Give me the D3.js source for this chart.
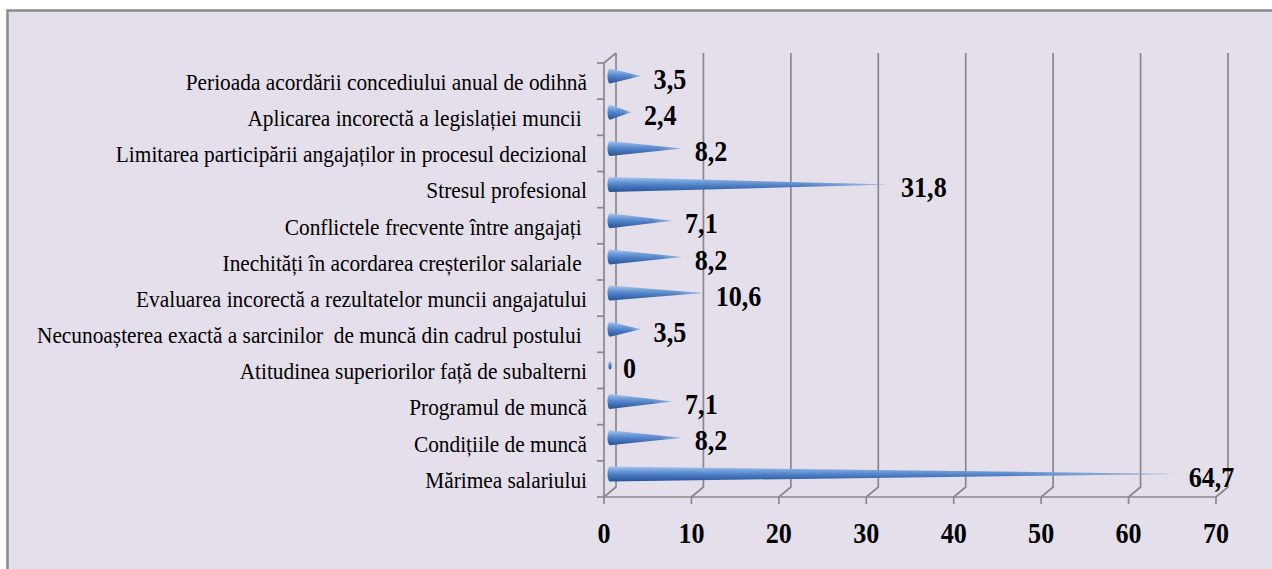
<!DOCTYPE html>
<html>
<head>
<meta charset="utf-8">
<script src="https://cdn.jsdelivr.net/npm/d3@7"></script>
<style>
  html, body { margin: 0; padding: 0; background: #ffffff; }
  svg { display: block; }
</style>
</head>
<body>
<svg id="chart" width="1272" height="569"></svg>
<script>
const categories = [
  "Perioada acordării concediului anual de odihnă",
  "Aplicarea incorectă a legislației muncii ",
  "Limitarea participării angajaților in procesul decizional",
  "Stresul profesional",
  "Conflictele frecvente între angajați ",
  "Inechități în acordarea creșterilor salariale ",
  "Evaluarea incorectă a rezultatelor muncii angajatului",
  "Necunoașterea exactă a sarcinilor  de muncă din cadrul postului ",
  "Atitudinea superiorilor față de subalterni",
  "Programul de muncă",
  "Condițiile de muncă",
  "Mărimea salariului"
];
const values = [3.5, 2.4, 8.2, 31.8, 7.1, 8.2, 10.6, 3.5, 0, 7.1, 8.2, 64.7];
const xTicks = [0, 10, 20, 30, 40, 50, 60, 70];

const FONT = "'Liberation Serif', 'Times New Roman', serif";
const svg = d3.select("#chart");

svg.append("rect")
  .attr("x", 7.5).attr("y", 10.5).attr("width", 1300).attr("height", 600)
  .attr("fill", "#e5dfeb").attr("stroke", "#8a8a8a").attr("stroke-width", 2.5);

const x = d3.scaleLinear().domain([0, 70]).range([604, 1216]);
const y = d3.scaleBand().domain(categories).range([63, 497]).paddingInner(0).paddingOuter(0);
const DX = 12, DY = -10;
const plotTop = 63, plotBottom = 497;

const grid = svg.append("g").attr("fill", "none").attr("stroke", "#898989").attr("stroke-width", 1.7);

xTicks.forEach(t => {
  const xb = x(t) + DX;
  grid.append("path")
    .attr("d", `M${xb},${plotTop + DY}L${xb},${plotBottom + DY}L${x(t)},${plotBottom}`);
});
grid.append("path").attr("d", `M${x(0) + DX},${plotTop + DY}L${x(0)},${plotTop}L${x(0)},${plotBottom}`);
grid.append("path").attr("d", `M${x(0)},${plotBottom}L${x(70)},${plotBottom}`);
xTicks.forEach(t => {
  grid.append("path").attr("d", `M${x(t)},${plotBottom}L${x(t)},${plotBottom + 7}`);
});
const bounds = categories.map(c => y(c)).concat([plotBottom]);
bounds.forEach(b => {
  grid.append("path").attr("d", `M${x(0) - 7},${b}L${x(0)},${b}`);
});

const defs = svg.append("defs");
const g1 = defs.append("linearGradient").attr("id", "coneV").attr("x1", 0).attr("y1", 0).attr("x2", 0).attr("y2", 1);
[[0, "#a9c8ef"], [0.3, "#6d9bd8"], [0.6, "#4477c2"], [1, "#28528f"]].forEach(s =>
  g1.append("stop").attr("offset", s[0]).attr("stop-color", s[1]));
const g2 = defs.append("linearGradient").attr("id", "coneH").attr("x1", 0).attr("y1", 0).attr("x2", 1).attr("y2", 0);
[[0, "#ffffff", 0], [0.7, "#ffffff", 0.05], [1, "#ffffff", 0.45]].forEach(s =>
  g2.append("stop").attr("offset", s[0]).attr("stop-color", s[1]).attr("stop-opacity", s[2]));

const H = 7.5, RX = 2.5, MDX = DX / 2, MDY = DY / 2;
const cones = svg.append("g");
const labels = svg.append("g").attr("fill", "#000");

categories.forEach((c, i) => {
  const v = values[i];
  const bandMid = y(c) + y.bandwidth() / 2;
  const cy = bandMid + MDY;
  const x0 = x(0) + MDX;
  const tip = x(v) + MDX;
  let d;
  if (v === 0) {
    d = `M${x0},${cy - 4}A1.6,4 0 1 1 ${x0},${cy + 4}A1.6,4 0 1 1 ${x0},${cy - 4}Z`;
  } else {
    d = `M${x0},${cy - H}L${tip},${cy}L${x0},${cy + H}A${RX},${H} 0 0 1 ${x0},${cy - H}Z`;
  }
  cones.append("path").attr("d", d).attr("fill", "url(#coneV)");
  if (v > 0) cones.append("path").attr("d", d).attr("fill", "url(#coneH)");

  const label = v === 0 ? "0" : v.toFixed(1).replace(".", ",");
  labels.append("text")
    .attr("transform", `translate(${tip + 13},${cy + 2.5}) scale(0.9,1)`)
    .attr("dy", "0.35em")
    .attr("font-family", FONT)
    .attr("font-size", 29).attr("font-weight", "bold")
    .text(label);

  labels.append("text")
    .attr("transform", `translate(587,${bandMid + 0.5}) scale(0.89,1)`)
    .attr("dy", "0.35em")
    .attr("font-family", FONT)
    .attr("text-anchor", "end").attr("font-size", 24)
    .style("white-space", "pre")
    .text(c);
});

xTicks.forEach(t => {
  labels.append("text")
    .attr("transform", `translate(${x(t)},532.7) scale(0.9,1)`)
    .attr("dy", "0.35em")
    .attr("font-family", FONT)
    .attr("text-anchor", "middle").attr("font-size", 29).attr("font-weight", "bold")
    .text(t);
});
</script>
</body>
</html>
